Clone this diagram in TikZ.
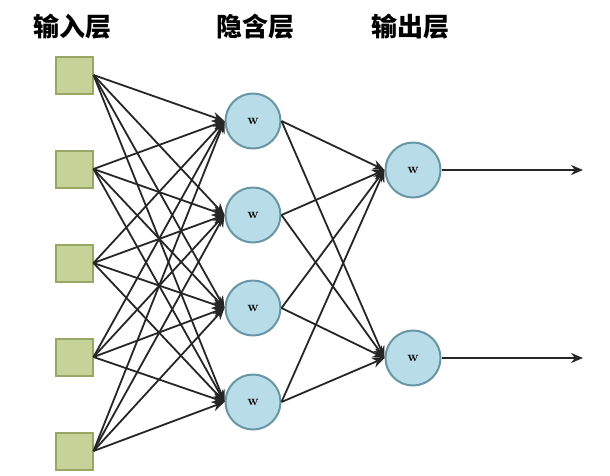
\documentclass[tikz,border=0pt]{standalone}
\usepackage{fontspec}
\newfontfamily\cjk{Noto Sans CJK SC}
\usetikzlibrary{arrows.meta}
\definecolor{inputfill}{RGB}{198,211,152}
\definecolor{inputline}{RGB}{150,168,100}
\definecolor{unitfill}{RGB}{184,221,232}
\definecolor{unitline}{RGB}{104,150,165}
\tikzset{
  layertitle/.style={font=\cjk\bfseries\fontsize{26}{30}\selectfont},
  inputbox/.style={draw=inputline, fill=inputfill, line width=2pt,
    minimum size=37pt, inner sep=0pt},
  unit/.style={circle, draw=unitline, fill=unitfill, line width=2pt,
    minimum size=55pt, inner sep=0pt, font=\bfseries\fontsize{14}{14}\selectfont},
  link/.style={-{Stealth[length=12pt,width=10pt]}, line width=1.8pt, black!85},
}
\begin{document}
\begin{tikzpicture}[x=1pt, y=-1pt]
    \useasboundingbox (0,0) rectangle (610,475);

    % titles
    \node[layertitle] (t-in) at (72, 27) {输入层};
    \node[layertitle] (t-hid) at (255, 27) {隐含层};
    \node[layertitle] (t-out) at (410, 27) {输出层};

    % input layer
    \node[inputbox] (in1) at (74, 75) {};
    \node[inputbox] (in2) at (74, 169) {};
    \node[inputbox] (in3) at (74, 263) {};
    \node[inputbox] (in4) at (74, 357) {};
    \node[inputbox] (in5) at (74, 451) {};

    % hidden layer
    \node[unit] (h1) at (253, 121) {w};
    \node[unit] (h2) at (253, 215) {w};
    \node[unit] (h3) at (253, 308) {w};
    \node[unit] (h4) at (253, 402) {w};

    % output layer
    \node[unit] (o1) at (413, 170) {w};
    \node[unit] (o2) at (413, 358) {w};
    \coordinate (y1) at (583, 170);
    \coordinate (y2) at (583, 358);

    % connections
    \foreach \i in {1,...,5}
      \foreach \j in {1,...,4}
        \draw[link] (in\i.east) -- (h\j.west);
    \foreach \j in {1,...,4}
      \foreach \k in {1,2}
        \draw[link] (h\j.east) -- (o\k.west);
    \draw[link] (o1.east) -- (y1);
    \draw[link] (o2.east) -- (y2);
  \end{tikzpicture}
\end{document}
